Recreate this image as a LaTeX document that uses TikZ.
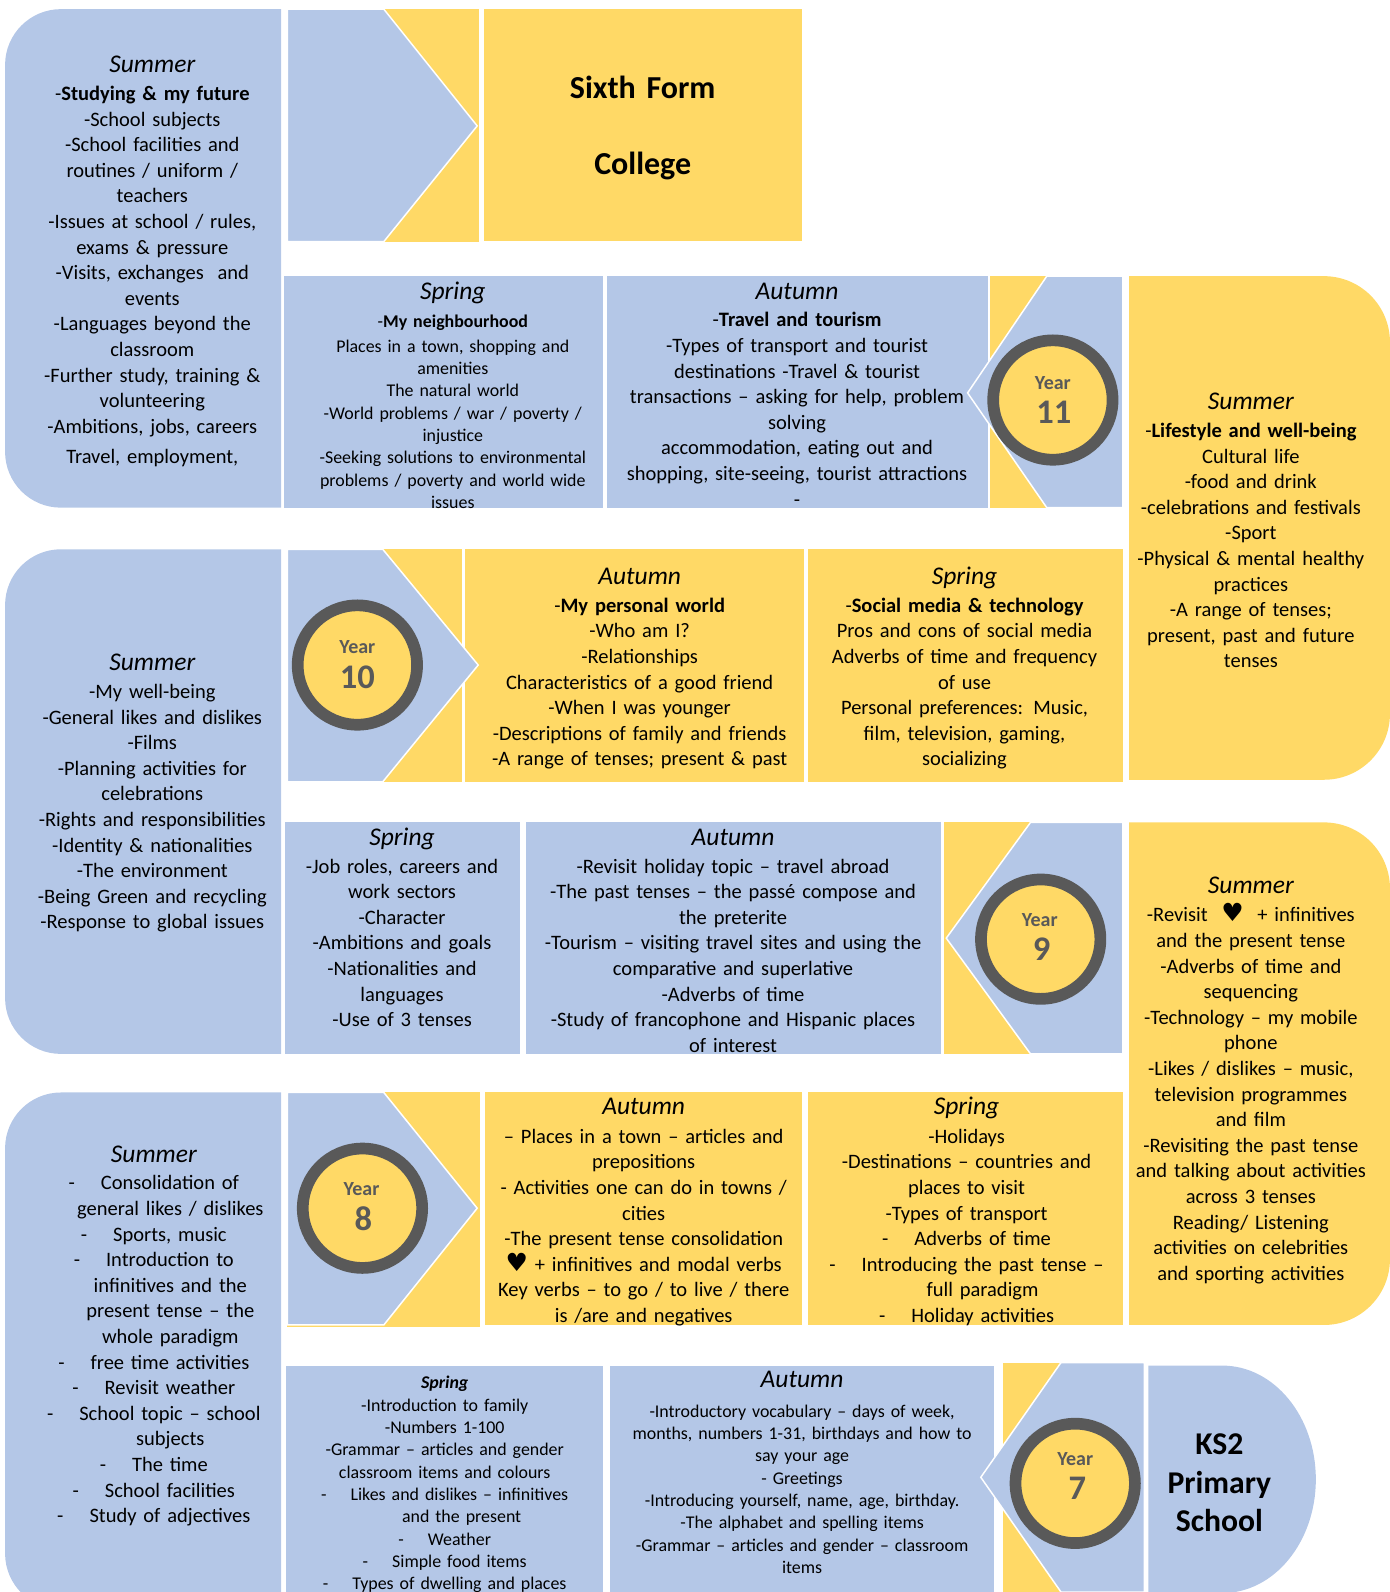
\documentclass[tikz,border=0pt]{standalone}
\usepackage{fontspec}
\setmainfont{Carlito}
\newfontfamily\symfont{DejaVu Sans}
\usepackage{tikz}
\usetikzlibrary{positioning}
\usepackage{xcolor}

\definecolor{pblue}{HTML}{B4C7E7}
\definecolor{pyellow}{HTML}{FFD966}
\definecolor{ringgray}{HTML}{595959}

\newcommand{\seasonhd}[1]{{\fontsize{25.5}{25.6}\selectfont\itshape #1}}
\newcommand{\heart}{{\symfont\fontsize{25}{25.6}\selectfont ♥}}

\begin{document}
\begin{tikzpicture}[x=1.0155pt, y=-1.0155pt,
    chev/.style={fill=pblue, draw=white, line width=1.5pt},
    bigtxt/.style={anchor=base, align=center, text width=420pt, inner sep=0pt, font=\fontsize{20.5}{25.6}\selectfont},
    smalltxt/.style={bigtxt, font=\fontsize{17.9}{22.3}\selectfont},
    titletxt/.style={anchor=base, align=center, text width=300pt, inner sep=0pt, font=\bfseries\fontsize{32}{76.2}\selectfont},
    ring/.style={circle, draw=ringgray, line width=11.7pt, fill=pyellow, minimum size=119.4pt, inner sep=0pt},
    year lbl/.style={inner sep=0pt, text=ringgray, font=\bfseries\fontsize{20}{24}\selectfont},
    year num/.style={inner sep=0pt, text=ringgray, font=\bfseries\fontsize{34.5}{40}\selectfont}]
        \useasboundingbox (0,0) rectangle (1369,1568);
        \clip (0,0) rectangle (1369,1568);

        % summer blocks on the left
        \fill[pblue] (277,9) -- (60,9) arc[start angle=270, end angle=180, radius=55] -- (5,445) arc[start angle=180, end angle=90, radius=55] -- (277,500) -- cycle;
        \fill[pblue] (277,541) -- (60,541) arc[start angle=270, end angle=180, radius=55] -- (5,983) arc[start angle=180, end angle=90, radius=55] -- (277,1038) -- cycle;
        \fill[pblue] (277,1076) -- (60,1076) arc[start angle=270, end angle=180, radius=55] -- (5,1530) arc[start angle=180, end angle=90, radius=55] -- (277,1585) -- cycle;

        % summer blocks on the right
        \fill[pyellow] (1112,272) -- (1304,272) arc[start angle=270, end angle=360, radius=65] -- (1369,703) arc[start angle=0, end angle=90, radius=65] -- (1112,768) -- cycle;
        \fill[pyellow] (1112,810) -- (1304,810) arc[start angle=270, end angle=360, radius=65] -- (1369,1240) arc[start angle=0, end angle=90, radius=65] -- (1112,1305) -- cycle;

        % term boxes
        \fill[pyellow] (477,9) rectangle (790,237);
        \fill[pblue] (280,272) rectangle (594,500);
        \fill[pblue] (598,272) rectangle (973,500);
        \fill[pyellow] (458,541) rectangle (792,770);
        \fill[pyellow] (796,541) rectangle (1106,770);
        \fill[pblue] (281,810) rectangle (512,1038);
        \fill[pblue] (518,810) rectangle (927,1038);
        \fill[pyellow] (478,1076) rectangle (790,1305);
        \fill[pyellow] (796,1076) rectangle (1106,1305);
        \fill[pblue] (282,1345) rectangle (594,1580);
        \fill[pblue] (601,1345) rectangle (979,1580);
        \fill[pblue] (1131,1345) -- (1204,1345) arc[start angle=270, end angle=450, x radius=92, y radius=112] -- (1131,1569) -- cycle;

        % chevrons
        \fill[pyellow] (283,9) rectangle (472,238);
        \draw[chev] (283,9) -- (378,9) -- (470,124) -- (378,238) -- (283,238) -- cycle;
        \fill[pyellow] (975,272) rectangle (1106,500);
        \draw[chev] (1106,272) -- (1031,272) -- (953,387) -- (1031,500) -- (1106,500) -- cycle;
        \fill[pyellow] (283,541) rectangle (455,770);
        \draw[chev] (283,541) -- (377,541) -- (471,655) -- (377,770) -- (283,770) -- cycle;
        \fill[pyellow] (930,810) rectangle (1106,1038);
        \draw[chev] (1106,810) -- (1015,810) -- (932,924) -- (1015,1038) -- (1106,1038) -- cycle;
        \fill[pyellow] (283,1076) rectangle (473,1307);
        \draw[chev] (283,1076) -- (378,1076) -- (470,1190) -- (378,1305) -- (283,1305) -- cycle;
        \fill[pyellow] (988,1342) rectangle (1127,1580);
        \draw[chev] (1127,1342) -- (1045,1342) -- (966,1455) -- (1045,1568) -- (1127,1568) -- cycle;

        % year rings
        \node[ring] (ring11) at (1037,394) {};
        \node[year lbl] (yr11) at (1037,377) {Year};
        \node[year num] (num11) at (1038,406) {11};
        \node[ring] (ring10) at (352,655) {};
        \node[year lbl] (yr10) at (352,637) {Year};
        \node[year num] (num10) at (352,667) {10};
        \node[ring] (ring9) at (1025,925) {};
        \node[year lbl] (yr9) at (1024,906) {Year};
        \node[year num] (num9) at (1026,935) {9};
        \node[ring] (ring8) at (357,1190) {};
        \node[year lbl] (yr8) at (356,1171) {Year};
        \node[year num] (num8) at (358,1200) {8};
        \node[ring] (ring7) at (1059,1461) {};
        \node[year lbl] (yr7) at (1059,1437) {Year};
        \node[year num] (num7) at (1061,1466) {7};

        % titles
        \node[titletxt] (sixth) at (633,97) {Sixth Form\\College};
        \node[titletxt, font=\bfseries\fontsize{31.7}{38.1}\selectfont] (ks2) at (1201,1433) {KS2\\Primary\\School};

        % year 12/13 and 11
        \node[bigtxt] (sumA) at (150,71) {\seasonhd{Summer}\\[2.8pt]
          -\textbf{Studying \& my future}\\
          -School subjects\\
          -School facilities and\\
          routines / uniform /\\
          teachers\\
          -Issues at school / rules,\\
          exams \& pressure\\
          -Visits, exchanges\ \ and\\
          events\\
          -Languages beyond the\\
          classroom\\
          -Further study, training \&\\
          volunteering\\
          -Ambitions, jobs, careers\\[4.9pt]
          Travel, employment,};
        \node[smalltxt] (sprB) at (446,295) {\seasonhd{Spring}\\[6.1pt]
          -\textbf{My neighbourhood}\\[2.1pt]
          Places in a town, shopping and\\
          amenities\\
          The natural world\\
          -World problems / war / poverty /\\
          injustice\\
          -Seeking solutions to environmental\\
          problems / poverty and world wide\\
          issues};
        \node[bigtxt] (autB) at (785,295) {\seasonhd{Autumn}\\[1.8pt]
          -\textbf{Travel and tourism}\\
          -Types of transport and tourist\\
          destinations -Travel \& tourist\\
          transactions – asking for help, problem\\
          solving\\
          accommodation, eating out and\\
          shopping, site-seeing, tourist attractions\\
          -};
        \node[bigtxt] (sumB) at (1232,403) {\seasonhd{Summer}\\[2.8pt]
          -\textbf{Lifestyle and well-being}\\
          Cultural life\\
          -food and drink\\
          -celebrations and festivals\\
          -Sport\\
          -Physical \& mental healthy\\
          practices\\
          -A range of tenses;\\
          present, past and future\\
          tenses};

        % year 10 and 9
        \node[bigtxt] (sumC) at (150,660) {\seasonhd{Summer}\\[2.8pt]
          -My well-being\\
          -General likes and dislikes\\
          -Films\\
          -Planning activities for\\
          celebrations\\
          -Rights and responsibilities\\
          -Identity \& nationalities\\
          -The environment\\
          -Being Green and recycling\\
          -Response to global issues};
        \node[bigtxt] (autC) at (630,576) {\seasonhd{Autumn}\\[1.8pt]
          -\textbf{My personal world}\\
          -Who am I?\\
          -Relationships\\
          Characteristics of a good friend\\
          -When I was younger\\
          -Descriptions of family and friends\\
          -A range of tenses; present \& past};
        \node[bigtxt] (sprC) at (950,576) {\seasonhd{Spring}\\[1.8pt]
          -\textbf{Social media \& technology}\\
          Pros and cons of social media\\
          Adverbs of time and frequency\\
          of use\\
          Personal preferences: Music,\\
          film, television, gaming,\\
          socializing};
        \node[bigtxt] (sprD) at (396,833) {\seasonhd{Spring}\\[1.8pt]
          -Job roles, careers and\\
          work sectors\\
          -Character\\
          -Ambitions and goals\\
          -Nationalities and\\
          languages\\
          -Use of 3 tenses};
        \node[bigtxt] (autD) at (722,833) {\seasonhd{Autumn}\\[1.8pt]
          -Revisit holiday topic – travel abroad\\
          -The past tenses – the passé compose and\\
          the preterite\\
          -Tourism – visiting travel sites and using the\\
          comparative and superlative\\
          -Adverbs of time\\
          -Study of francophone and Hispanic places\\
          of interest};
        \node[bigtxt] (sumD) at (1232,880) {\seasonhd{Summer}\\[2.8pt]
          -Revisit\ \ \heart\ \ + infinitives\\
          and the present tense\\
          -Adverbs of time and\\
          sequencing\\
          -Technology – my mobile\\
          phone\\
          -Likes / dislikes – music,\\
          television programmes\\
          and film\\
          -Revisiting the past tense\\
          and talking about activities\\
          across 3 tenses\\
          Reading/ Listening\\
          activities on celebrities\\
          and sporting activities};

        % year 8 and 7
        \node[bigtxt] (sumE) at (151.5,1145) {\seasonhd{Summer}\\[1.8pt]
          -\hspace{26pt}Consolidation of\\
          \hspace*{33pt}general likes / dislikes\\
          -\hspace{26pt}Sports, music\\
          -\hspace{26pt}Introduction to\\
          \hspace*{33pt}infinitives and the\\
          \hspace*{33pt}present tense – the\\
          \hspace*{33pt}whole paradigm\\
          -\hspace{26pt}free time activities\\
          -\hspace{26pt}Revisit weather\\
          -\hspace{26pt}School topic – school\\
          \hspace*{33pt}subjects\\
          -\hspace{26pt}The time\\
          -\hspace{26pt}School facilities\\
          -\hspace{26pt}Study of adjectives};
        \node[bigtxt] (autE) at (634,1098) {\seasonhd{Autumn}\\[2.8pt]
          – Places in a town – articles and\\
          prepositions\\
          - Activities one can do in towns /\\
          cities\\
          -The present tense consolidation\\
          \heart\ + infinitives and modal verbs\\
          Key verbs – to go / to live / there\\
          is /are and negatives};
        \node[bigtxt] (sprE) at (952,1098) {\seasonhd{Spring}\\[2.8pt]
          -Holidays\\
          -Destinations – countries and\\
          places to visit\\
          -Types of transport\\
          -\hspace{26pt}Adverbs of time\\
          -\hspace{26pt}Introducing the past tense –\\
          \hspace*{32pt}full paradigm\\
          -\hspace{26pt}Holiday activities};
        \node[smalltxt] (sprF) at (438,1368) {{\bfseries\itshape Spring}\\
          -Introduction to family\\
          -Numbers 1-100\\
          -Grammar – articles and gender\\
          classroom items and colours\\
          -\hspace{24pt}Likes and dislikes – infinitives\\
          \hspace*{34pt}and the present\\
          -\hspace{24pt}Weather\\
          -\hspace{24pt}Simple food items\\
          -\hspace{24pt}Types of dwelling and places};
        \node[smalltxt] (autF) at (790,1367) {\seasonhd{Autumn}\\[7.1pt]
          -Introductory vocabulary – days of week,\\
          months, numbers 1-31, birthdays and how to\\
          say your age\\
          - Greetings\\
          -Introducing yourself, name, age, birthday.\\
          -The alphabet and spelling items\\
          -Grammar – articles and gender – classroom\\
          items};
      \end{tikzpicture}
\end{document}
